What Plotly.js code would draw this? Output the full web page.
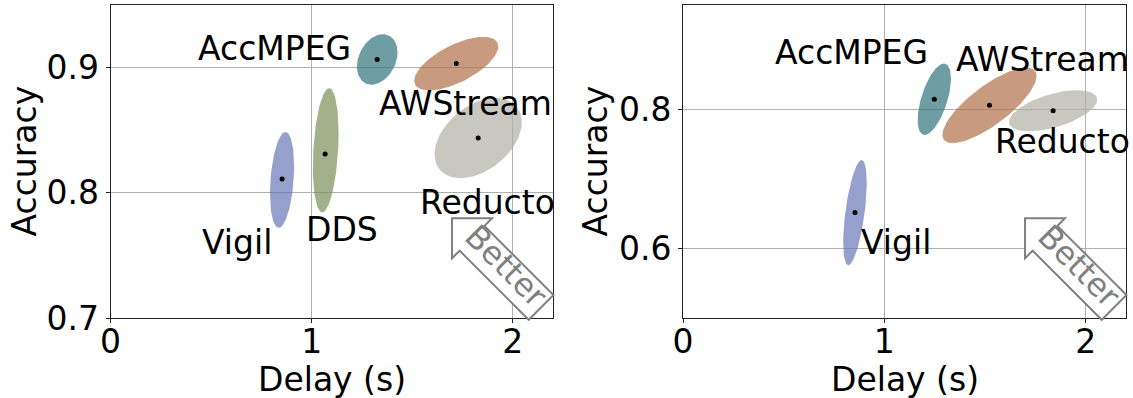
<!DOCTYPE html>
<html>
<head>
<meta charset="utf-8">
<script src="https://cdn.plot.ly/plotly-3.0.1.min.js"></script>
<style>html,body{margin:0;padding:0;background:#fff;}#chart{width:1133px;height:398px;}</style>
</head>
<body>
<div id="chart"></div>
<script>
// ---------------- data ----------------
const methods = ["Vigil", "DDS", "AccMPEG", "AWStream", "Reducto"];

// Left panel: mean delay / accuracy
const leftDelay    = [0.853, 1.067, 1.326, 1.719, 1.828];
const leftAccuracy = [0.811, 0.831, 0.9065, 0.9032, 0.8437];
// Left panel: spread ellipse (centre, std-like half extents, correlation)
const leftEllDelay  = [0.853, 1.070, 1.326, 1.719, 1.828];
const leftEllAcc    = [0.8103, 0.834, 0.9065, 0.9032, 0.8437];
const leftEllSdDelay = [0.060, 0.064, 0.101, 0.209, 0.217];
const leftEllSdAcc   = [0.0383, 0.0496, 0.0202, 0.0214, 0.032];
const leftEllRho     = [0.28, 0.27, 0.28, 0.64, 0.40];

// Right panel (no DDS)
const rightMethods  = ["Vigil", "AccMPEG", "AWStream", "Reducto"];
const rightDelay    = [0.854, 1.248, 1.522, 1.838];
const rightAccuracy = [0.6515, 0.8145, 0.8057, 0.798];
const rightEllSdDelay = [0.0586, 0.0827, 0.234, 0.219];
const rightEllSdAcc   = [0.0756, 0.0513, 0.0542, 0.0295];
const rightEllRho     = [0.57, 0.58, 0.78, 0.54];

const xTicks = [0, 1, 2];
const leftYTicks = [0.7, 0.8, 0.9];
const rightYTicks = [0.6, 0.8];
const xTitle = "Delay (s)";
const yTitle = "Accuracy";

// ---------------- styles / label placement ----------------
const colors = {
  Vigil: "rgba(106,119,182,0.7)",
  DDS: "rgba(124,144,89,0.7)",
  AccMPEG: "rgba(48,116,124,0.7)",
  AWStream: "rgba(176,112,74,0.7)",
  Reducto: "rgba(176,175,165,0.7)"
};
const leftLabelPos = {
  Vigil: [0.631, 0.760], DDS: [1.150, 0.771], AccMPEG: [0.815, 0.915],
  AWStream: [1.767, 0.871], Reducto: [1.875, 0.792]
};
const rightLabelPos = {
  Vigil: [1.057, 0.608], AccMPEG: [0.836, 0.882],
  AWStream: [1.787, 0.871], Reducto: [1.887, 0.754]
};

const FONT = "DejaVu Sans";
const W = 1133, H = 398;

function ellipse(cx, cy, sx, sy, rho) {
  const xs = [], ys = [];
  const k = Math.sqrt(1 - rho * rho);
  for (let i = 0; i <= 120; i++) {
    const t = 2 * Math.PI * i / 120;
    xs.push(cx + sx * Math.cos(t));
    ys.push(cy + sy * (rho * Math.cos(t) + k * Math.sin(t)));
  }
  return {xs, ys};
}

const traces = [];
const annotations = [];

function addPanel(names, mx, my, ex, ey, sdx, sdy, rho, xa, ya, labelPos) {
  names.forEach((n, i) => {
    const e = ellipse(ex[i], ey[i], sdx[i], sdy[i], rho[i]);
    traces.push({
      type: "scatter", mode: "lines", x: e.xs, y: e.ys, xaxis: xa, yaxis: ya,
      fill: "toself", fillcolor: colors[n], line: {width: 0, color: colors[n]},
      hoverinfo: "skip", showlegend: false
    });
  });
  traces.push({
    type: "scatter", mode: "markers", x: mx, y: my, xaxis: xa, yaxis: ya,
    marker: {color: "black", size: 5}, showlegend: false, text: names
  });
  names.forEach(n => {
    annotations.push({
      x: labelPos[n][0], y: labelPos[n][1], xref: xa, yref: ya, text: n,
      showarrow: false, xanchor: "center", yanchor: "middle",
      font: {family: FONT, size: 33, color: "black"}
    });
  });
}

addPanel(methods, leftDelay, leftAccuracy, leftEllDelay, leftEllAcc,
  leftEllSdDelay, leftEllSdAcc, leftEllRho, "x", "y", leftLabelPos);
addPanel(rightMethods, rightDelay, rightAccuracy, rightDelay, rightAccuracy,
  rightEllSdDelay, rightEllSdAcc, rightEllRho, "x2", "y2", rightLabelPos);

// "Better" arrow (pixel geometry relative to panel's bottom-right corner)
const shapes = [];
function betterArrow(frameRight, frameBottom) {
  const T = [frameRight - 101, frameBottom - 99.7];
  const d = [Math.SQRT1_2, Math.SQRT1_2], nrm = [Math.SQRT1_2, -Math.SQRT1_2];
  const head = 40, halfW = 17.5, len = 126;
  const hd = head / Math.SQRT2;
  const M = [T[0] + hd * d[0], T[1] + hd * d[1]];
  const E = [T[0] + len * d[0], T[1] + len * d[1]];
  const pts = [
    T, [T[0] + head, T[1]],
    [M[0] + halfW * nrm[0], M[1] + halfW * nrm[1]],
    [E[0] + halfW * nrm[0], E[1] + halfW * nrm[1]],
    [E[0] - halfW * nrm[0], E[1] - halfW * nrm[1]],
    [M[0] - halfW * nrm[0], M[1] - halfW * nrm[1]],
    [T[0], T[1] + head]
  ];
  const p = pts.map((q, i) => (i ? "L" : "M") + (q[0] / W).toFixed(5) + "," + (1 - q[1] / H).toFixed(5)).join(" ") + " Z";
  shapes.push({type: "path", xref: "paper", yref: "paper", path: p,
    fillcolor: "white", line: {color: "#808080", width: 2}, layer: "above"});
  const c = [T[0] + 72 * d[0] + 3, T[1] + 72 * d[1] - 3];
  annotations.push({x: c[0] / W, y: 1 - c[1] / H, xref: "paper", yref: "paper",
    text: "Better", showarrow: false, textangle: 45, xanchor: "center", yanchor: "middle",
    font: {family: FONT, size: 32, color: "#808080"}});
}
betterArrow(553, 318);
betterArrow(1126, 318);

// axis titles (pixel placement)
function axisTitles(xCenterPx, yTitleXPx) {
  annotations.push({x: xCenterPx / W, y: 1 - 379 / H, xref: "paper", yref: "paper",
    text: xTitle, showarrow: false, xanchor: "center", yanchor: "middle",
    font: {family: FONT, size: 33, color: "black"}});
  annotations.push({x: yTitleXPx / W, y: 1 - 161.5 / H, xref: "paper", yref: "paper",
    text: yTitle, showarrow: false, textangle: -90, xanchor: "center", yanchor: "middle",
    font: {family: FONT, size: 33, color: "black"}});
}
axisTitles(332, 24);
axisTitles(904.5, 595);

const axisCommon = {
  showgrid: true, gridcolor: "#b0b0b0", gridwidth: 1,
  showline: true, linecolor: "#222", linewidth: 1, mirror: true,
  ticks: "outside", ticklen: 4, tickcolor: "#222", zeroline: false,
  tickfont: {family: FONT, size: 33, color: "black"}, automargin: false
};

const layout = {
  width: W, height: H, margin: {l: 0, r: 0, t: 0, b: 0},
  paper_bgcolor: "white", plot_bgcolor: "white", showlegend: false,
  xaxis: Object.assign({}, axisCommon, {domain: [110.5 / W, 553 / W], range: [0, 2.2],
    tickvals: xTicks, anchor: "y", ticklabelstandoff: -10}),
  yaxis: Object.assign({}, axisCommon, {domain: [(H - 318) / H, (H - 5) / H], range: [0.7, 0.95],
    tickvals: leftYTicks, tickformat: ".1f", anchor: "x"}),
  xaxis2: Object.assign({}, axisCommon, {domain: [683 / W, 1126 / W], range: [0, 2.2],
    tickvals: xTicks, anchor: "y2", ticklabelstandoff: -10}),
  yaxis2: Object.assign({}, axisCommon, {domain: [(H - 318) / H, (H - 5) / H], range: [0.5, 0.95],
    tickvals: rightYTicks, tickformat: ".1f", anchor: "x2"}),
  annotations: annotations, shapes: shapes
};

Plotly.newPlot("chart", traces, layout, {staticPlot: true, displayModeBar: false});
</script>
</body>
</html>
